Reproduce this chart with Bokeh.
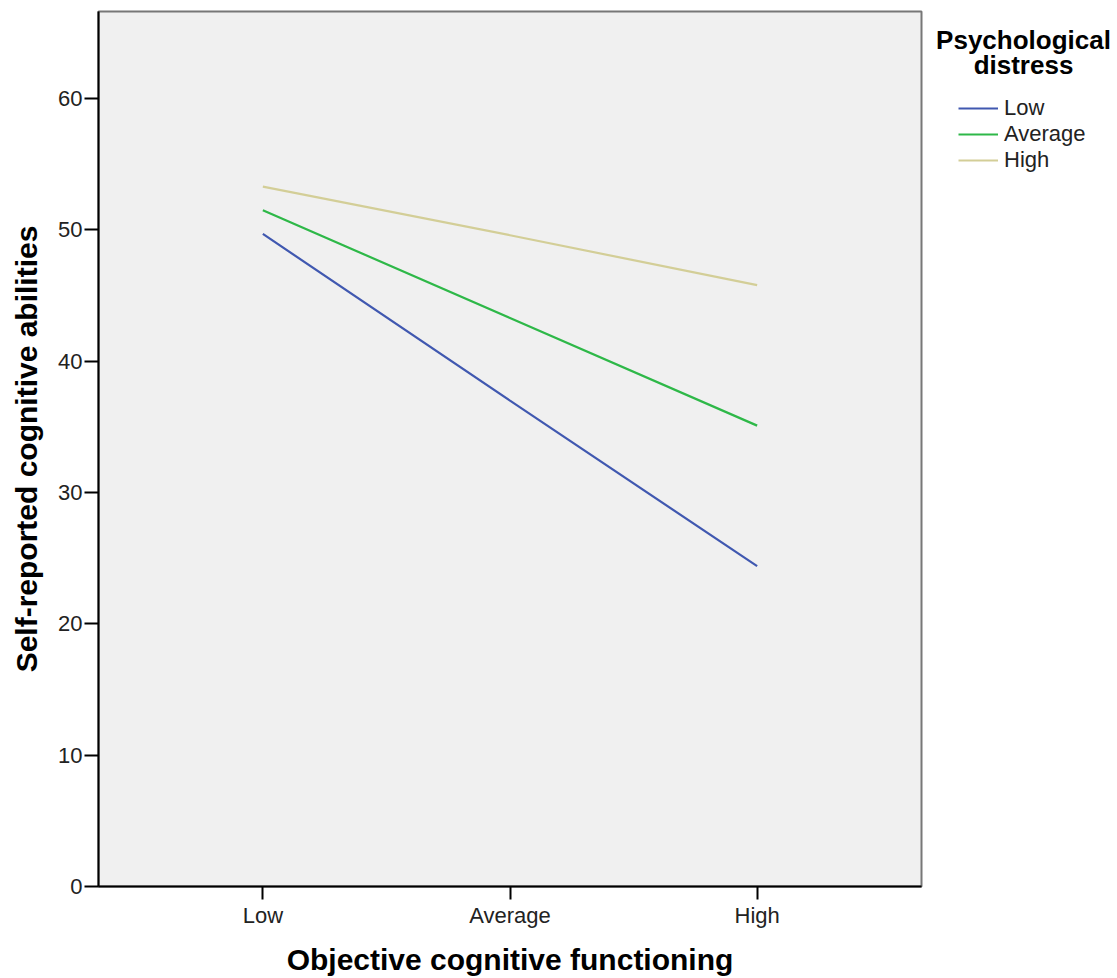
from bokeh.plotting import figure
from bokeh.layouts import row
from bokeh.models import FactorRange, Range1d, FixedTicker, Legend, LegendItem, Label
from bokeh.embed import file_html
from bokeh.resources import INLINE

categories = ["Low", "Average", "High"]
distress_levels = ["Low", "Average", "High"]
low_distress = [49.7, 37.0, 24.4]
average_distress = [51.5, 43.3, 35.1]
high_distress = [53.3, 49.6, 45.8]
y_ticks = [0, 10, 20, 30, 40, 50, 60]
colors = ["#4058B0", "#2EB848", "#D3CE97"]

FONT = "Liberation Sans"

p = figure(
    width=923, height=978,
    x_range=FactorRange(factors=categories, range_padding=0.165, range_padding_units="absolute"),
    y_range=Range1d(0, 66.64),
    output_backend="svg", toolbar_location=None,
    min_border_left=98, min_border_right=2, min_border_top=11, min_border_bottom=92,
)
p.background_fill_color = "#F0F0F0"
p.border_fill_color = "white"
p.outline_line_color = "#777777"
p.outline_line_width = 2
p.xgrid.visible = False
p.ygrid.visible = False

series = [low_distress, average_distress, high_distress]
for vals, c in zip(series, colors):
    p.line(categories, vals, line_color=c, line_width=2.2)

for ax in (p.xaxis[0], p.yaxis[0]):
    ax.axis_line_color = "black"
    ax.axis_line_width = 2
    ax.major_tick_line_color = "black"
    ax.major_tick_line_width = 2
    ax.major_tick_in = 0
    ax.minor_tick_line_color = None
    ax.major_label_text_font = FONT
    ax.major_label_text_font_size = "22px"
    ax.major_label_text_color = "#222222"
    ax.axis_label_text_font = FONT
    ax.axis_label_text_font_size = "30px"
    ax.axis_label_text_font_style = "bold"
    ax.axis_label_text_color = "black"

p.xaxis.axis_label = "Objective cognitive functioning"
p.xaxis.major_tick_out = 13
p.xaxis.major_label_standoff = 3
p.xaxis.axis_label_standoff = 12

p.yaxis.axis_label = "Self-reported cognitive abilities"
p.yaxis.ticker = FixedTicker(ticks=y_ticks)
p.yaxis.major_tick_out = 14
p.yaxis.major_label_standoff = 2
p.yaxis.axis_label_standoff = 12

# Legend panel as a separate, axis-less figure (its frame is aligned with the main frame)
p2 = figure(
    width=194, height=978,
    x_range=Range1d(0, 1), y_range=Range1d(0, 1),
    output_backend="svg", toolbar_location=None,
    min_border_left=0, min_border_right=0, min_border_top=0, min_border_bottom=0,
)
p2.axis.visible = False
p2.xgrid.visible = False
p2.ygrid.visible = False
p2.outline_line_color = None
p2.background_fill_color = "white"
p2.border_fill_color = "white"

# legend-only line renderers (their data lie outside this panel's ranges)
legend_renderers = [p2.line(x=[-5, -4], y=[-5, -4], line_color=c, line_width=2.2) for c in colors]

legend = Legend(
    items=[LegendItem(label=lab, renderers=[r]) for lab, r in zip(distress_levels, legend_renderers)],
    location=(35, 713),
    glyph_width=40, glyph_height=26, label_standoff=6, spacing=0,
    padding=0, margin=0,
    border_line_alpha=0, background_fill_alpha=0,
    label_text_font=FONT, label_text_font_size="22px", label_text_color="#222222",
)
p2.add_layout(legend, "center")

for txt, yy in (("Psychological", 847), ("distress", 822)):
    p2.add_layout(Label(x=100, y=yy, x_units="screen", y_units="screen", text=txt,
                        text_align="center", text_baseline="middle",
                        text_font=FONT, text_font_size="26px", text_font_style="bold",
                        text_color="black"))

layout = row(p, p2)
open("out.html", "w").write(file_html(layout, INLINE))
